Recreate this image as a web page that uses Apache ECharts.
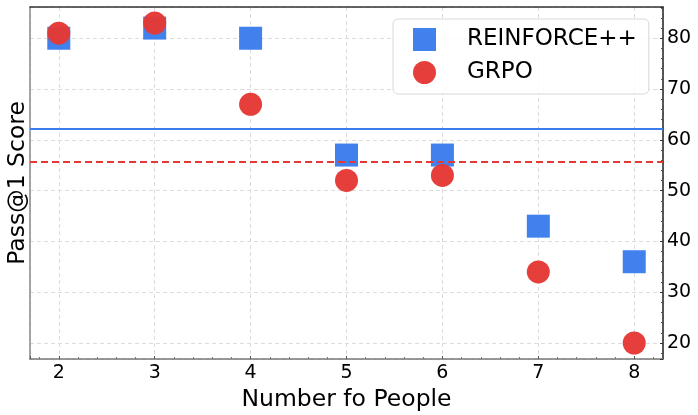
<!DOCTYPE html>
<html>
<head>
<meta charset="utf-8">
<script src="https://cdn.jsdelivr.net/npm/echarts@6/dist/echarts.min.js"></script>
<style>html,body{margin:0;padding:0;background:#fff}#c{width:698px;height:415px}</style>
</head>
<body>
<div id="c"></div>
<script>
const people = [2, 3, 4, 5, 6, 7, 8];
const reinforceScores = [80, 82, 80, 57, 57, 43, 36];
const grpoScores = [81, 83, 67, 52, 53, 34, 20];
const seriesNames = ['REINFORCE++', 'GRPO'];

const mean = a => a.reduce((s, v) => s + v, 0) / a.length;
const BLUE = '#3b7ded', RED = '#e53935';
const FONT = 'DejaVu Sans';

const chart = echarts.init(document.getElementById('c'), null, {renderer: 'canvas'});
const gridLine = {show: true, lineStyle: {color: '#dcdcdc', type: [4, 3], width: 1}};
chart.setOption({
  animation: false,
  backgroundColor: '#fff',
  textStyle: {fontFamily: FONT},
  grid: {left: 30, right: 35, top: 7, bottom: 56, containLabel: false, outerBoundsMode: 'none'},
  legend: {
    orient: 'vertical', left: 393, top: 19,
    padding: [9, 12, 10, 20],
    itemWidth: 23, itemHeight: 23, itemGap: 10,
    backgroundColor: 'rgba(255,255,255,0.85)',
    borderColor: '#d8d8d8', borderWidth: 1, borderRadius: 5,
    textStyle: {fontFamily: FONT, fontSize: 23, color: '#000', padding: [0, 0, 0, 26]},
    data: [{name: seriesNames[0], icon: 'rect'}, {name: seriesNames[1], icon: 'circle'}]
  },
  xAxis: [{
    type: 'value', min: 1.7, max: 8.3, splitNumber: 6,
    name: 'Number fo People', nameLocation: 'middle', nameGap: 26,
    nameTextStyle: {fontFamily: FONT, fontSize: 23.5, color: '#000'},
    axisLine: {show: true, onZero: false, lineStyle: {color: '#777', width: 1.5}},
    axisTick: {show: true, inside: true, length: 3, lineStyle: {color: '#555'}},
    minorTick: {show: true, splitNumber: 5, length: 2, lineStyle: {color: '#777'}},
    axisLabel: {fontFamily: FONT, fontSize: 19, color: '#000', margin: 5, showMinLabel: false, showMaxLabel: false},
    splitLine: gridLine
  }, {
    type: 'value', position: 'top', min: 1.7, max: 8.3,
    axisLine: {show: true, onZero: false, lineStyle: {color: '#333', width: 1.5}},
    axisTick: {show: false}, axisLabel: {show: false}, splitLine: {show: false}
  }],
  yAxis: [{
    type: 'value', position: 'right', min: 16.85, max: 86.15, splitNumber: 7,
    axisLine: {show: true, onZero: false, lineStyle: {color: '#222', width: 1.5}},
    axisTick: {show: true, inside: true, length: 3, lineStyle: {color: '#333'}},
    minorTick: {show: true, splitNumber: 5, length: 2, lineStyle: {color: '#555'}},
    axisLabel: {fontFamily: FONT, fontSize: 19, color: '#000', margin: 4, showMinLabel: false, showMaxLabel: false},
    splitLine: gridLine
  }, {
    type: 'value', position: 'left', min: 16.85, max: 86.15,
    name: 'Pass@1 Score', nameLocation: 'middle', nameGap: 0, nameRotate: 90,
    nameTextStyle: {fontFamily: FONT, fontSize: 23.5, color: '#000'},
    axisLine: {show: true, onZero: false, lineStyle: {color: '#888', width: 1.5}},
    axisTick: {show: false}, axisLabel: {show: false}, splitLine: {show: false}
  }],
  series: [{
    name: seriesNames[0], type: 'scatter', symbol: 'rect', symbolSize: 23,
    itemStyle: {color: BLUE, opacity: 0.97},
    data: people.map((p, i) => [p, reinforceScores[i]]),
    markLine: {silent: true, symbol: 'none', label: {show: false},
      lineStyle: {color: BLUE, width: 2, type: 'solid'},
      data: [{yAxis: mean(reinforceScores)}]}
  }, {
    name: seriesNames[1], type: 'scatter', symbol: 'circle', symbolSize: 23,
    itemStyle: {color: RED, opacity: 0.97},
    data: people.map((p, i) => [p, grpoScores[i]]),
    markLine: {silent: true, symbol: 'none', label: {show: false},
      lineStyle: {color: RED, width: 2, type: [7, 4]},
      data: [{yAxis: mean(grpoScores)}]}
  }]
});
</script>
</body>
</html>
